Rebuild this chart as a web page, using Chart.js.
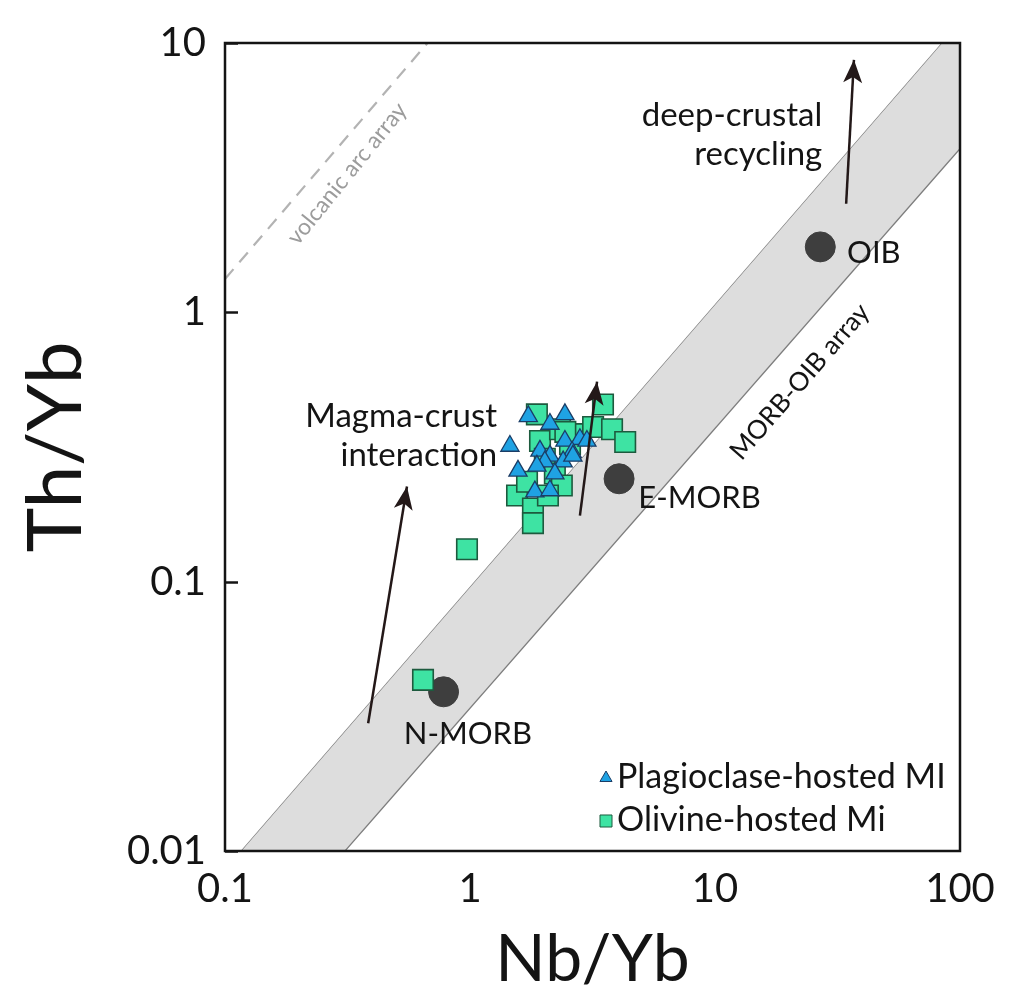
<!DOCTYPE html>
<html>
<head>
<meta charset="utf-8">
<title>Th/Yb vs Nb/Yb</title>
<script src="https://cdn.jsdelivr.net/npm/chart.js@4.4.0/dist/chart.umd.min.js"></script>
<style>
  html, body { margin: 0; padding: 0; background: #fff; }
  #wrap { width: 1010px; height: 1000px; }
</style>
</head>
<body>
<div id="wrap"><canvas id="chart" width="1010" height="1000"></canvas></div>
<script>
// ==============================
// Data
// ==============================
const plagNb = [1.73, 2.44, 2.12, 1.455, 2.44, 2.81, 1.93, 2.12, 2.02, 2.61, 1.57, 2.40, 1.875, 2.22, 1.84, 2.12, 3.0, 2.63];
const plagTh = [0.411, 0.418, 0.385, 0.319, 0.333, 0.338, 0.306, 0.293, 0.279, 0.303, 0.258, 0.279, 0.269, 0.252, 0.216, 0.218, 0.333, 0.293];

const olivNb = [0.643, 0.972, 1.556, 1.807, 1.807, 1.875, 1.931, 2.02, 2.22, 2.37, 1.709, 2.56, 2.81, 3.18, 3.49, 3.80, 4.30, 2.33, 2.08, 2.45];
const olivTh = [0.0432, 0.132, 0.209, 0.187, 0.165, 0.418, 0.333, 0.286, 0.252, 0.2275, 0.235, 0.324, 0.353, 0.375, 0.455, 0.368, 0.330, 0.368, 0.209, 0.36];

const refNames = ['N-MORB', 'E-MORB', 'OIB'];
const refNb = [0.78, 4.06, 26.9];
const refTh = [0.039, 0.241, 1.75];

// MORB-OIB array limits
const bandUpperNb = [0.1, 100];
const bandUpperTh = [0.0085, 11.9];
const bandLowerNb = [0.1, 100];
const bandLowerTh = [0.0031, 4.05];

// volcanic arc array (dashed)
const arcNb = [0.1, 0.8];
const arcTh = [1.33, 12.05];

// arrows: tail -> head
const arrowTailNb = [0.384, 2.81, 34.3];
const arrowTailTh = [0.0298, 0.176, 2.53];
const arrowHeadNb = [0.553, 3.30, 36.9];
const arrowHeadTh = [0.2255, 0.553, 8.66];

const xTicks = [0.1, 1, 10, 100];
const yTicks = [0.01, 0.1, 1, 10];
const legendOrder = ['Plagioclase-hosted MI', 'Olivine-hosted Mi'];

// ==============================
// Utilidades
// ==============================
const FONT = 'Lato, "Open Sans", sans-serif';
const INK = '#141414';
const pts = (xs, ys) => xs.map((x, i) => ({ x, y: ys[i] }));
const isPow10 = (v) => Math.abs(Math.log10(v) - Math.round(Math.log10(v))) < 1e-6;
const near = (list, v) => list.some(t => Math.abs(Math.log10(t) - Math.log10(v)) < 1e-6);
const fmt = (v) => { const e = Math.round(Math.log10(v)); return e >= 0 ? String(Math.pow(10, e)) : Math.pow(10, e).toFixed(-e); };

// texts anchored in data space
const notes = [
  { text: 'Magma-crust', x: 1.29, y: 0.41, align: 'right', size: 33, color: INK },
  { text: 'interaction', x: 1.29, y: 0.295, align: 'right', size: 33, color: INK },
  { text: 'deep-crustal', x: 27.4, y: 5.40, align: 'right', size: 33, color: INK },
  { text: 'recycling', x: 27.4, y: 3.87, align: 'right', size: 33, color: INK },
  { text: refNames[0], x: 0.98, y: 0.0272, align: 'center', size: 31, color: INK },
  { text: refNames[1], x: 4.86, y: 0.204, align: 'left', size: 31, color: INK },
  { text: refNames[2], x: 34.6, y: 1.66, align: 'left', size: 31, color: INK },
  { text: 'volcanic arc array', x: 0.315, y: 3.27, align: 'center', size: 23, color: '#9c9c9c', rot: -51 },
  { text: 'MORB-OIB array', x: 22.2, y: 0.553, align: 'center', size: 26, color: INK, rot: -49 }
];

// ==============================
// Plugin: marco, ticks internos, flechas, textos y leyenda
// ==============================
const decor = {
  id: 'decor',
  afterDatasetsDraw(chart) {
    const { ctx, chartArea: a, scales: { x, y } } = chart;
    ctx.save();

    // arrowheads
    chart.data.datasets.forEach((ds, i) => {
      if (!ds.isArrow) return;
      const d = chart.getDatasetMeta(i).data;
      const p0 = d[0], p1 = d[1];
      const ang = Math.atan2(p1.y - p0.y, p1.x - p0.x);
      const L = 23, W = 9.5;
      ctx.fillStyle = ds.borderColor;
      ctx.beginPath();
      ctx.moveTo(p1.x, p1.y);
      ctx.lineTo(p1.x - L * Math.cos(ang) + W * Math.sin(ang), p1.y - L * Math.sin(ang) - W * Math.cos(ang));
      ctx.lineTo(p1.x - L * 0.75 * Math.cos(ang), p1.y - L * 0.75 * Math.sin(ang));
      ctx.lineTo(p1.x - L * Math.cos(ang) - W * Math.sin(ang), p1.y - L * Math.sin(ang) + W * Math.cos(ang));
      ctx.closePath();
      ctx.fill();
    });

    // box
    ctx.strokeStyle = INK;
    ctx.lineWidth = 2.5;
    ctx.strokeRect(a.left, a.top, a.right - a.left, a.bottom - a.top);

    // y ticks, inside
    y.ticks.forEach(t => {
      if (t.value < y.min || t.value > y.max) return;
      const py = Math.round(y.getPixelForValue(t.value)) + 0.5;
      const len = isPow10(t.value) ? 13 : 9;
      ctx.beginPath();
      ctx.moveTo(a.left, py);
      ctx.lineTo(a.left + len, py);
      ctx.stroke();
    });

    // texts
    ctx.textBaseline = 'middle';
    notes.forEach(n => {
      ctx.save();
      ctx.translate(x.getPixelForValue(n.x), y.getPixelForValue(n.y));
      if (n.rot) ctx.rotate(n.rot * Math.PI / 180);
      ctx.font = `${n.size}px ${FONT}`;
      ctx.fillStyle = n.color;
      ctx.textAlign = n.align;
      ctx.fillText(n.text, 0, 0);
      ctx.restore();
    });

    // legend (bottom-right inside the plot)
    const tx = a.right - 343;
    legendOrder.forEach((lab, k) => {
      const ds = chart.data.datasets.find(d => d.label === lab);
      const ly = a.bottom - 74 + k * 43;
      ctx.fillStyle = ds.backgroundColor;
      ctx.strokeStyle = ds.borderColor;
      ctx.lineWidth = 1;
      Chart.helpers.drawPoint(ctx, { pointStyle: ds.pointStyle, radius: ds.pointStyle === 'rect' ? 8.5 : 7, rotation: 0, borderWidth: 1 }, tx - 11, ly + 1);
      ctx.fillStyle = INK;
      ctx.font = `34px ${FONT}`;
      ctx.textAlign = 'left';
      ctx.fillText(ds.label, tx, ly);
    });

    ctx.restore();
  }
};

// ==============================
// Chart
// ==============================
const arrowDs = arrowTailNb.map((_, i) => ({
  label: 'arrow' + i,
  type: 'line',
  isArrow: true,
  data: [{ x: arrowTailNb[i], y: arrowTailTh[i] }, { x: arrowHeadNb[i], y: arrowHeadTh[i] }],
  borderColor: '#231818',
  borderWidth: 2.5,
  pointRadius: 0,
  fill: false,
  order: 1
}));

new Chart(document.getElementById('chart').getContext('2d'), {
  type: 'scatter',
  data: {
    datasets: [
      { label: 'upper', type: 'line', data: pts(bandUpperNb, bandUpperTh), borderColor: '#7d7d7d', borderWidth: 1.3, pointRadius: 0, fill: false, order: 10 },
      { label: 'lower', type: 'line', data: pts(bandLowerNb, bandLowerTh), borderColor: '#7d7d7d', borderWidth: 1.3, pointRadius: 0, fill: '-1', backgroundColor: '#dddddd', order: 9 },
      { label: 'arc', type: 'line', data: pts(arcNb, arcTh), borderColor: '#b3b3b3', borderWidth: 2.2, borderDash: [13, 9], pointRadius: 0, fill: false, order: 8 },
      { label: 'refs', data: pts(refNb, refTh), pointStyle: 'circle', pointRadius: 15, backgroundColor: '#3e3e3e', borderColor: '#3e3e3e', borderWidth: 1, order: 5 },
      { label: 'Olivine-hosted Mi', data: pts(olivNb, olivTh), pointStyle: 'rect', pointRadius: 14.5, backgroundColor: '#3ee3a3', borderColor: '#1d5a3e', borderWidth: 1.6, order: 4 },
      { label: 'Plagioclase-hosted MI', data: pts(plagNb, plagTh), pointStyle: 'triangle', pointRadius: 10.5, backgroundColor: '#1fa2e3', borderColor: '#1b3d66', borderWidth: 1.3, order: 3 },
      ...arrowDs
    ]
  },
  options: {
    responsive: false,
    animation: false,
    devicePixelRatio: 1,
    layout: { padding: { top: 35, right: 50, bottom: 0, left: 0 } },
    plugins: { legend: { display: false }, tooltip: { enabled: false } },
    scales: {
      x: {
        type: 'logarithmic', min: 0.1, max: 100, position: 'bottom',
        grid: { display: false, drawTicks: false },
        border: { display: false },
        afterBuildTicks: (s) => { s.ticks = xTicks.map(v => ({ value: v })); },
        ticks: { autoSkip: false, maxRotation: 0, padding: 14, color: INK, font: { family: FONT, size: 40 },
                 callback: (v) => near(xTicks, v) ? fmt(v) : null },
        title: { display: true, text: 'Nb/Yb', color: INK, font: { family: FONT, size: 66, lineHeight: 1 }, padding: { top: 0, bottom: 7 } },
        afterFit: (s) => { s.height = 149; }
      },
      y: {
        type: 'logarithmic', min: 0.01, max: 10, position: 'left',
        grid: { display: false, drawTicks: false },
        border: { display: false },
        ticks: { autoSkip: false, padding: 19, color: INK, font: { family: FONT, size: 40 },
                 callback: (v) => near(yTicks, v) ? fmt(v) : null },
        title: { display: true, text: 'Th/Yb', color: INK, font: { family: FONT, size: 76, lineHeight: 1 }, padding: { top: 18, bottom: 0 } },
        afterFit: (s) => { s.width = 225; }
      }
    }
  },
  plugins: [decor]
});
</script>
</body>
</html>
